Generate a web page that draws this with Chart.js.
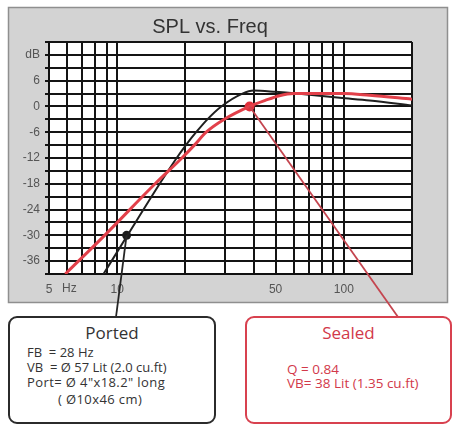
<!DOCTYPE html>
<html>
<head>
<meta charset="utf-8">
<script src="https://cdn.jsdelivr.net/npm/chart.js@4.4.1/dist/chart.umd.min.js"></script>
<style>
  html, body { margin: 0; padding: 0; background: #fff; }
  #wrap { position: relative; width: 454px; height: 426px; overflow: hidden; }
  #chart { position: absolute; left: 0; top: 0; }
  .box { position: absolute; top: 316px; height: 108px; box-sizing: border-box; background: #fff;
         border-radius: 9px; font-family: "Open Sans", "Noto Sans", sans-serif; }
  .box h3 { margin: 0; font-weight: normal; font-size: 17px; line-height: 20px; text-align: center; padding-top: 5px; }
  .box .ln { font-size: 13px; line-height: 15px; white-space: pre; }
  #ported { left: 8px; width: 208px; border: 2.5px solid #2b2b2b; color: #333; }
  #ported .body { padding-left: 17px; margin-top: 2px; }
  #ported .sp { letter-spacing: 0.4px; }
  #ported .last { margin-top: 2px; padding-left: 31px; }
  #sealed { left: 245px; width: 207px; border: 2px solid #d8414f; color: #d2394a; }
  #sealed .body { padding-left: 40px; margin-top: 19px; }
  #sealed .ln { font-size: 13.5px; line-height: 14px; }
</style>
</head>
<body>
<div id="wrap">
  <canvas id="chart" width="454" height="426"></canvas>
  <div class="box" id="ported">
    <h3>Ported</h3>
    <div class="body">
      <div class="ln">FB  = 28 Hz</div>
      <div class="ln">VB  = Ø 57 Lit (2.0 cu.ft)</div>
      <div class="ln sp">Port= Ø 4"x18.2" long</div>
      <div class="ln sp last">( Ø10x46 cm)</div>
    </div>
  </div>
  <div class="box" id="sealed">
    <h3>Sealed</h3>
    <div class="body">
      <div class="ln">Q = 0.84</div>
      <div class="ln">VB= 38 Lit (1.35 cu.ft)</div>
    </div>
  </div>
</div>
<script>
const freqTicks = [5, 6, 7, 8, 9, 10, 20, 30, 40, 50, 60, 70, 80, 90, 100, 200];
const xLabelValues = [5, 10, 50, 100];
const xLabelTexts = ['5', '10', '50', '100'];
const xUnit = 'Hz';
const yLabelValues = [12, 6, 0, -6, -12, -18, -24, -30, -36];
const yLabelTexts = ['dB', '6', '0', '-6', '-12', '-18', '-24', '-30', '-36'];

const portedFreq = [8.7, 11.1, 15.4, 18.3, 20.1, 22.3, 25, 28.8, 35.7, 40, 50, 62, 96, 130, 200];
const portedDb = [-39, -30, -18, -12, -9, -6, -3, 0, 3, 3.7, 3.4, 3.0, 2.0, 1.4, 0.2];
const sealedFreq = [5.9, 8.8, 14.7, 19.3, 21.9, 24.7, 29.7, 38.4, 45, 52, 60, 100, 130, 200];
const sealedDb = [-39, -30, -18, -12, -9, -6, -3, 0, 1.4, 2.5, 3.0, 3.0, 2.6, 1.7];
const portedMarker = { x: 11.0, y: -30 };
const sealedMarker = { x: 38.4, y: 0 };

const toPts = (xs, ys) => xs.map((x, i) => ({ x: x, y: ys[i] }));

// grey panel + white plot area behind the chart, callouts on top
const panelPlugin = {
  id: 'panel',
  beforeDraw(chart) {
    const { ctx, chartArea: a } = chart;
    ctx.save();
    ctx.fillStyle = '#d3d3d3';
    ctx.fillRect(8, 7, 440, 296);
    ctx.strokeStyle = '#8f8f8f';
    ctx.lineWidth = 1.5;
    ctx.strokeRect(8.5, 7.5, 439, 295);
    ctx.fillStyle = '#fff';
    ctx.fillRect(a.left, a.top, a.right - a.left, a.bottom - a.top);
    ctx.restore();
  },
  afterDatasetsDraw(chart) {
    const { ctx, scales: { x, y } } = chart;
    ctx.save();
    ctx.lineWidth = 1.8;
    ctx.strokeStyle = '#262626';
    ctx.beginPath();
    ctx.moveTo(x.getPixelForValue(portedMarker.x), y.getPixelForValue(portedMarker.y));
    ctx.quadraticCurveTo(120, 285, 116, 317);
    ctx.stroke();
    ctx.strokeStyle = '#c4454f';
    ctx.beginPath();
    ctx.moveTo(x.getPixelForValue(sealedMarker.x), y.getPixelForValue(sealedMarker.y));
    ctx.lineTo(398, 317);
    ctx.stroke();
    ctx.fillStyle = '#555';
    ctx.font = '12px "Liberation Sans", Arial, sans-serif';
    ctx.textBaseline = 'middle';
    ctx.fillText(xUnit, x.getPixelForValue(5) + 13, 289);
    ctx.restore();
  }
};

new Chart(document.getElementById('chart'), {
  type: 'line',
  data: {
    datasets: [
      { data: toPts(sealedFreq, sealedDb), borderColor: '#e2404a', borderWidth: 3, pointRadius: 0, cubicInterpolationMode: 'monotone' },
      { data: toPts(portedFreq, portedDb), borderColor: '#1f1f1f', borderWidth: 2, pointRadius: 0, cubicInterpolationMode: 'monotone' },
      { data: [sealedMarker], showLine: false, pointRadius: 5, backgroundColor: '#e0303c', borderWidth: 0 },
      { data: [portedMarker], showLine: false, pointRadius: 4.5, backgroundColor: '#1a1a1a', borderWidth: 0 }
    ]
  },
  options: {
    responsive: false,
    animation: false,
    layout: { padding: { left: 8, right: 42, top: 8, bottom: 128 } },
    plugins: {
      legend: { display: false },
      tooltip: { enabled: false },
      title: {
        display: true,
        text: 'SPL vs. Freq',
        color: '#333',
        font: { family: '"Liberation Sans", Arial, sans-serif', size: 20, weight: 'normal' },
        padding: { top: 7, bottom: 3 }
      }
    },
    scales: {
      x: {
        type: 'logarithmic',
        min: 5,
        max: 200,
        afterBuildTicks: axis => { axis.ticks = freqTicks.map(v => ({ value: v })); },
        afterFit: s => { s.height = 24; },
        grid: { color: '#141414', lineWidth: 2, drawTicks: false },
        border: { color: '#111', width: 2 },
        ticks: {
          autoSkip: false, maxRotation: 0, padding: 8, color: '#555',
          font: { family: '"Liberation Sans", Arial, sans-serif', size: 12 },
          callback: v => { const i = xLabelValues.indexOf(v); return i >= 0 ? xLabelTexts[i] : ''; }
        }
      },
      y: {
        min: -39,
        max: 15,
        afterFit: s => { s.width = 41; },
        grid: { color: '#141414', lineWidth: 2, tickLength: 4 },
        border: { color: '#111', width: 2 },
        ticks: {
          stepSize: 3, autoSkip: false, padding: 5, color: '#555',
          font: { family: '"Liberation Sans", Arial, sans-serif', size: 12 },
          callback: v => { const i = yLabelValues.indexOf(v); return i >= 0 ? yLabelTexts[i] : ''; }
        }
      }
    }
  },
  plugins: [panelPlugin]
});
</script>
</body>
</html>
